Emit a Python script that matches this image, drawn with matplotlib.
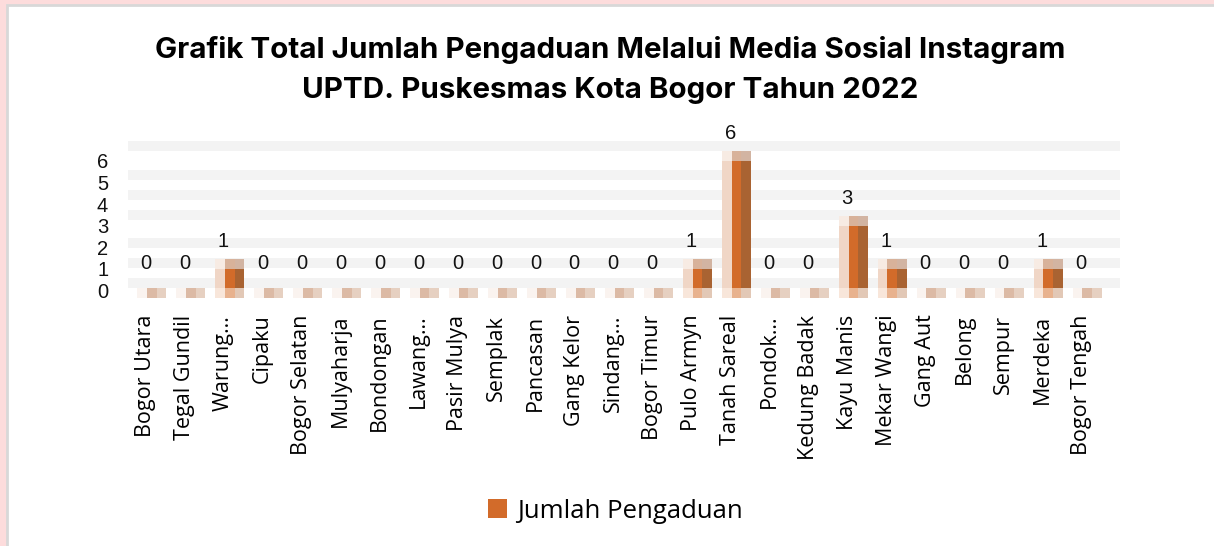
import numpy as np
import matplotlib
matplotlib.use('Agg')
import matplotlib.pyplot as plt
from matplotlib.patches import Rectangle, Patch
from matplotlib.transforms import ScaledTranslation, blended_transform_factory

kelurahan = ['Bogor Utara', 'Tegal Gundil', 'Warung…', 'Cipaku', 'Bogor Selatan',
             'Mulyaharja', 'Bondongan', 'Lawang…', 'Pasir Mulya', 'Semplak',
             'Pancasan', 'Gang Kelor', 'Sindang…', 'Bogor Timur', 'Pulo Armyn',
             'Tanah Sareal', 'Pondok…', 'Kedung Badak', 'Kayu Manis', 'Mekar Wangi',
             'Gang Aut', 'Belong', 'Sempur', 'Merdeka', 'Bogor Tengah']
pengaduan = [0, 0, 1, 0, 0, 0, 0, 0, 0, 0, 0, 0, 0, 0, 1,
             6, 0, 0, 3, 1, 0, 0, 0, 1, 0]
y_ticks = [0, 1, 2, 3, 4, 5, 6]
judul = 'Grafik Total Jumlah Pengaduan Melalui Media Sosial Instagram\nUPTD. Puskesmas Kota Bogor Tahun 2022'
nama_seri = 'Jumlah Pengaduan'

x = np.arange(len(kelurahan))
v = np.array(pengaduan, dtype=float)

FLOOR_TOP = -0.32
FLOOR_BOT = -0.79
CAP = 0.46
w = 0.25

fig = plt.figure(figsize=(12.14, 5.46), dpi=100)
fig.patch.set_facecolor('#fddcdc')
# white panel with grey edge
fig.patches.append(Rectangle((7 / 1214, -0.1), 1.2, 1.1 - 5 / 546, transform=fig.transFigure,
                             facecolor='white', edgecolor='#d8d8d8', linewidth=2, zorder=-5))

ax = fig.add_axes([128 / 1214, 1 - 298 / 546, (1120 - 128) / 1214, (298 - 141) / 546])
ax.set_zorder(2)
ax.set_facecolor('white')
ax.set_xlim(-0.45, 25.0)
ax.set_ylim(FLOOR_BOT, 6.48)

for c in [-0.09, 0.83, 1.76, 3.05, 4.0, 4.9, 6.25]:
    ax.axhspan(c - 0.23, c + 0.23, color='#f3f3f3', lw=0, zorder=0)

# floor stubs
nol = v == 0
fh = FLOOR_TOP - FLOOR_BOT
ax.bar(x[nol] - 0.09, fh, w, bottom=FLOOR_BOT, color='#faf3ef', zorder=2)
ax.bar(x[nol] + 0.16, fh, w, bottom=FLOOR_BOT, color='#dcbaa5', zorder=2)
ax.bar(x[nol] + 0.41, fh, w, bottom=FLOOR_BOT, color='#e6d0c1', zorder=2)
ada = ~nol
ax.bar(x[ada] - 0.09, fh, w, bottom=FLOOR_BOT, color='#f8e6da', zorder=2)
ax.bar(x[ada] + 0.16, fh, w, bottom=FLOOR_BOT, color='#e8b28e', zorder=2)
ax.bar(x[ada] + 0.41, fh, w, bottom=FLOOR_BOT, color='#e2c8b6', zorder=2)

# bar bodies
body = v[ada] - CAP - FLOOR_TOP
ax.bar(x[ada] - 0.09, body, w, bottom=FLOOR_TOP, color='#f0d6c6', zorder=2)
ax.bar(x[ada] + 0.16, body, w, bottom=FLOOR_TOP, color='#d26b2a', zorder=2)
ax.bar(x[ada] + 0.41, body, w, bottom=FLOOR_TOP, color='#a96332', zorder=2)
# caps
ax.bar(x[ada] - 0.09, CAP, w, bottom=v[ada] - CAP, color='#f7ebe3', zorder=2)
ax.bar(x[ada] + 0.16, CAP, w, bottom=v[ada] - CAP, color='#d8b29a', zorder=2)
ax.bar(x[ada] + 0.41, CAP, w, bottom=v[ada] - CAP, color='#d2b4a2', zorder=2)

for xi, vi in zip(x, pengaduan):
    ax.text(xi, vi + 0.83, str(vi), ha='center', va='center', fontsize=14.5,
            family='Liberation Sans', color='#111111', zorder=3)

# y labels sit a little lower than the values, as in the source image
ax.set_yticks(y_ticks)
ax.set_yticklabels([])
ax.tick_params(axis='y', length=0)
ytrans = blended_transform_factory(ax.transAxes, ax.transData) + \
    ScaledTranslation(0, -0.115, fig.dpi_scale_trans)
for t in y_ticks:
    ax.text(-0.02, t, str(t), transform=ytrans, ha='right', va='center',
            fontsize=14.5, family='Liberation Sans', color='#111111')

ax.set_xticks(x)
ax.set_xticklabels(kelurahan, rotation=90, fontsize=15.5, family='Open Sans')
ax.tick_params(axis='x', length=0, pad=12)
for s in ax.spines.values():
    s.set_visible(False)

fig.text(0.503, 0.872, judul, ha='center', va='center', fontsize=21.3,
         fontweight='bold', family='Inter', linespacing=1.6)

fig.legend(handles=[Patch(facecolor='#d26b2a', label=nama_seri)], loc='center',
           bbox_to_anchor=(0.507, 0.064), frameon=False,
           prop={'family': 'Open Sans', 'size': 18.5}, handlelength=0.75, handleheight=0.75,
           handletextpad=0.4)

fig.savefig('out.png', dpi=100, facecolor=fig.get_facecolor())
